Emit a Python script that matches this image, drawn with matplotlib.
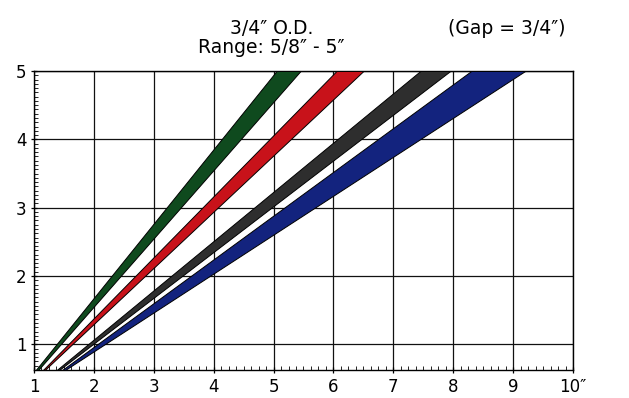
import matplotlib

matplotlib.use("Agg")
import matplotlib.pyplot as plt
from matplotlib.ticker import MultipleLocator

plt.rcParams["font.family"] = ["DejaVu Sans"]

# Band edges: x position of each edge at the bottom
# (y = 5/8) and at the top (y = 5) of the plot.
y_ends = [0.625, 5.0]
band_colors = ["#0f4a1e", "#c8121a", "#2e2e2e", "#13237e"]
left_bottom = [1.03, 1.15, 1.38, 1.47]
left_top = [5.05, 6.05, 7.45, 8.3]
right_bottom = [1.07, 1.18, 1.42, 1.52]
right_top = [5.45, 6.5, 7.95, 9.2]

x_ticks = [1, 2, 3, 4, 5, 6, 7, 8, 9, 10]
x_labels = ["1", "2", "3", "4", "5", "6", "7", "8", "9", "10\u2033"]
y_ticks = [1, 2, 3, 4, 5]

fig = plt.figure(figsize=(6.29, 3.98), dpi=100)
ax = fig.add_axes([0.054, 0.0704, 0.857, 0.7512])

for c, lb, lt, rb, rt in zip(band_colors, left_bottom, left_top, right_bottom, right_top):
    ax.fill_betweenx(y_ends, [lb, lt], [rb, rt], facecolor=c, edgecolor="black",
                     linewidth=0.7, zorder=3)

ax.set_xlim(1, 10)
ax.set_ylim(0.625, 5)
ax.set_xticks(x_ticks)
ax.set_xticklabels(x_labels)
ax.set_yticks(y_ticks)
ax.xaxis.set_minor_locator(MultipleLocator(0.125))
ax.yaxis.set_minor_locator(MultipleLocator(0.0625))
ax.grid(True, which="major", color="#111111", linewidth=0.9, zorder=1)
ax.tick_params(which="major", direction="inout", length=5, width=0.9,
               labelsize=12, pad=3)
ax.tick_params(which="minor", direction="in", length=3, width=0.6)
for s in ax.spines.values():
    s.set_linewidth(1.0)

fig.text(0.432, 0.928, "3/4\u2033 O.D.", ha="center", va="center", fontsize=13.5)
fig.text(0.432, 0.880, "Range: 5/8\u2033 - 5\u2033", ha="center", va="center", fontsize=13.5)
fig.text(0.805, 0.928, "(Gap = 3/4\u2033)", ha="center", va="center", fontsize=13.5)

fig.savefig("out.png", dpi=100)
